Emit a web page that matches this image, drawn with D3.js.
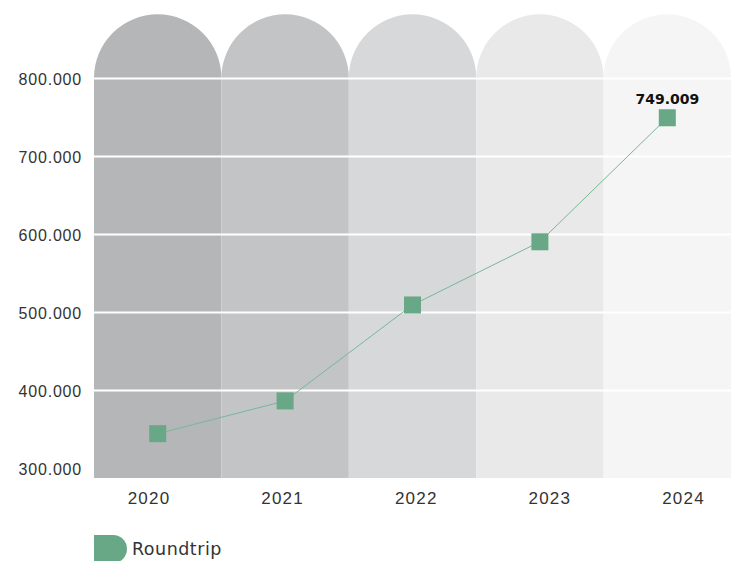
<!DOCTYPE html>
<html>
<head>
<meta charset="utf-8">
<script src="https://cdn.jsdelivr.net/npm/d3@7"></script>
<style>
  body { margin: 0; background: #fff; }
  svg { display: block; font-family: "DejaVu Sans", sans-serif; }
</style>
</head>
<body>
<figure id="roundtripChart" style="margin:0"></figure>
<script>
// data
const years = ["2020", "2021", "2022", "2023", "2024"];
const roundtrips = [344000, 386000, 509000, 590000, 749009];
const yTicks = [300000, 400000, 500000, 600000, 700000, 800000];
const columnColors = ["#b4b6b8", "#c3c4c6", "#d7d8da", "#e9e9e9", "#f5f5f5"];
const seriesName = "Roundtrip";

const width = 731, height = 561;
const margin = { top: 78, bottom: 93, left: 94, right: 0 };
const green = "#68a886";

const svg = d3.select("figure#roundtripChart").append("svg")
  .attr("width", width)
  .attr("height", height)
  .attr("viewBox", `0 0 ${width} ${height}`);

const xScale = d3.scaleBand()
  .domain(years)
  .range([margin.left, width - margin.right])
  .padding(0);

// the year labels sit on their own, slightly narrower spacing
const labelScale = d3.scalePoint()
  .domain(years)
  .range([148.5, 683]);

const yScale = d3.scaleLinear()
  .domain([300000, 800000])
  .range([height - margin.bottom, margin.top]);

const plotBottom = yScale(300000) + 10;
const bw = xScale.bandwidth();
const r = bw / 2;

// columns with a round top
svg.append("g").selectAll("path")
  .data(years).enter()
  .append("path")
  .attr("fill", (d, i) => columnColors[i])
  .attr("d", d => {
    const x0 = xScale(d), x1 = x0 + bw, yTop = yScale(800000);
    return `M${x0},${plotBottom} L${x0},${yTop} A${r},${r} 0 0 1 ${x1},${yTop} L${x1},${plotBottom} Z`;
  });

// Y axis with white grid lines
const yAxis = svg.append("g")
  .attr("transform", `translate(${margin.left},0)`)
  .call(d3.axisLeft(yScale)
    .tickValues(yTicks)
    .tickSizeInner(-(width - margin.left - margin.right))
    .tickSizeOuter(0)
    .tickPadding(12)
    .tickFormat(d => d3.format(",")(d).replace(/,/g, ".")));
yAxis.select(".domain").remove();
yAxis.selectAll(".tick line")
  .attr("stroke", d => d === 300000 ? "none" : "#fff")
  .attr("stroke-width", 2);
yAxis.selectAll(".tick text")
  .attr("font-size", 16)
  .attr("letter-spacing", 0.8)
  .attr("fill", "#333")
  .attr("dy", "0.4em");

// X axis
const xAxis = svg.append("g")
  .attr("transform", `translate(0,${plotBottom})`)
  .call(d3.axisBottom(labelScale).tickSize(0).tickPadding(14));
xAxis.select(".domain").remove();
xAxis.selectAll(".tick text")
  .attr("font-size", 17)
  .attr("letter-spacing", 1.2)
  .attr("fill", "#333");

// line
const points = years.map((d, i) => [xScale(d) + bw / 2, yScale(roundtrips[i])]);
svg.append("path")
  .attr("d", d3.line()(points))
  .attr("fill", "none")
  .attr("stroke", "#79b797")
  .attr("stroke-width", 1);

// markers
const ms = 17;
svg.append("g").selectAll("rect")
  .data(points).enter()
  .append("rect")
  .attr("x", d => d[0] - ms / 2)
  .attr("y", d => d[1] - ms / 2)
  .attr("width", ms)
  .attr("height", ms)
  .attr("fill", green);

// label on the last value
const last = points[points.length - 1];
svg.append("text")
  .attr("x", last[0])
  .attr("y", last[1] - 14)
  .attr("text-anchor", "middle")
  .attr("font-size", 14)
  .attr("font-weight", "bold")
  .attr("fill", "#111")
  .text(d3.format(",")(roundtrips[roundtrips.length - 1]).replace(/,/g, "."));

// legend
const lg = svg.append("g").attr("transform", `translate(${margin.left},549)`);
const lh = 28, lw = 33;
lg.append("path")
  .attr("d", `M0,${-lh / 2} L${lw - lh / 2},${-lh / 2} A${lh / 2},${lh / 2} 0 0 1 ${lw - lh / 2},${lh / 2} L0,${lh / 2} Z`)
  .attr("fill", green);
lg.append("text")
  .attr("x", lw + 5)
  .attr("dy", "0.35em")
  .attr("font-size", 17.5)
  .attr("letter-spacing", 0.5)
  .attr("fill", "#333")
  .text(seriesName);
</script>
</body>
</html>
